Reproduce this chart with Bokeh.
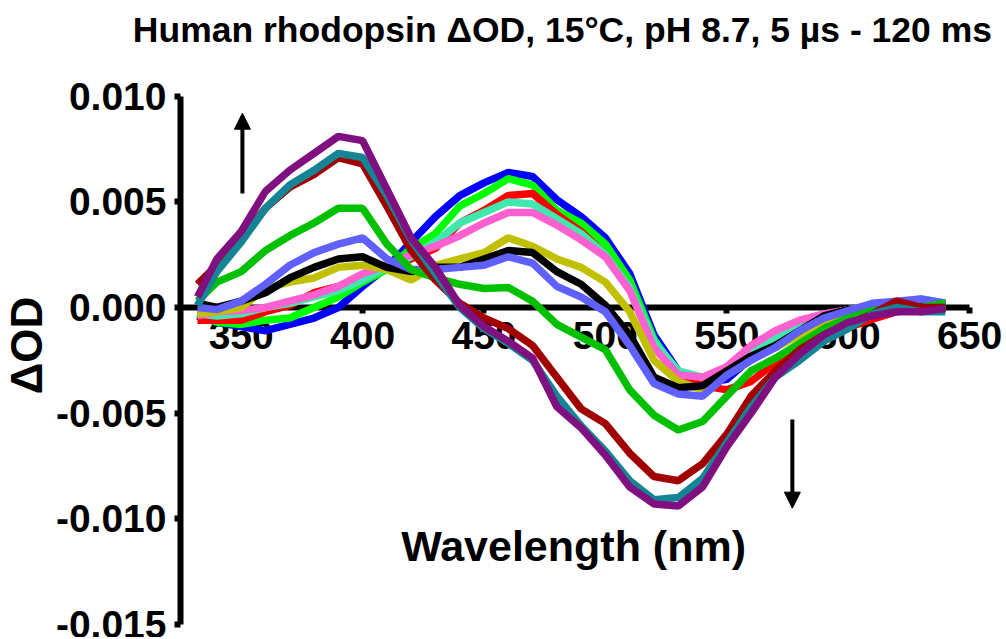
from bokeh.plotting import figure
from bokeh.models import Range1d, FixedTicker, PrintfTickFormatter, Label, Arrow, NormalHead
from bokeh.embed import file_html
from bokeh.resources import INLINE

title_text = "Human rhodopsin \u0394OD, 15\u00b0C, pH 8.7, 5 \u00b5s - 120 ms"
x_label = "Wavelength (nm)"
y_label = "\u0394OD"

x_ticks = [350, 400, 450, 500, 550, 600, 650]
y_ticks = [-0.015, -0.010, -0.005, 0.000, 0.005, 0.010]

wavelength = [332, 340, 350, 360, 370, 380, 390, 400, 410, 420, 430, 440, 450, 460, 470, 480,
              490, 500, 510, 520, 530, 540, 550, 560, 570, 580, 590, 600, 610, 620, 630, 640]

blue = [-0.0004, -0.0007, -0.0009, -0.0011, -0.0008, -0.0005, 0.0000, 0.0010, 0.0019, 0.0031, 0.0043,
        0.0053, 0.0059, 0.0064, 0.0062, 0.0051, 0.0043, 0.0033, 0.0016, -0.0013, -0.0030, -0.0036,
        -0.0034, -0.0024, -0.0016, -0.0009, -0.0005, -0.0002, 0.0000, 0.0002, 0.0002, 0.0001]
bright_green = [-0.0003, -0.0007, -0.0008, -0.0006, -0.0005, 0.0000, 0.0005, 0.0012, 0.0018, 0.0028,
                0.0035, 0.0048, 0.0054, 0.0061, 0.0058, 0.0046, 0.0040, 0.0030, 0.0013, -0.0015,
                -0.0032, -0.0036, -0.0032, -0.0025, -0.0018, -0.0011, -0.0006, -0.0002, 0.0000,
                0.0001, 0.0001, 0.0001]
red = [-0.0006, -0.0006, -0.0006, -0.0002, 0.0001, 0.0007, 0.0010, 0.0014, 0.0019, 0.0023, 0.0028,
       0.0040, 0.0046, 0.0053, 0.0054, 0.0044, 0.0036, 0.0025, 0.00095, -0.0018, -0.0033, -0.0037,
       -0.0039, -0.0035, -0.0026, -0.0019, -0.0013, -0.00095, -0.00055, -0.0002, 0.0000, 0.0000]
aquamarine = [-0.0003, -0.0004, -0.0003, 0.0000, 0.0002, 0.0005, 0.0008, 0.0013, 0.0019, 0.0024,
              0.0031, 0.0040, 0.0045, 0.0050, 0.0049, 0.0042, 0.0035, 0.0025, 0.00095, -0.0016,
              -0.0030, -0.0033, -0.0029, -0.0021, -0.0014, -0.0008, -0.0004, -0.0001, 0.0001,
              0.0002, 0.0004, 0.0002]
pink = [-0.0004, -0.0002, -0.00014, 0.0000, 0.0003, 0.0006, 0.0010, 0.0016, 0.0020, 0.0025, 0.0029,
        0.0034, 0.0040, 0.0045, 0.0045, 0.0039, 0.0032, 0.0024, 0.0008, -0.0019, -0.0032, -0.0033,
        -0.0028, -0.0018, -0.0011, -0.0006, -0.0003, -0.0001, 0.0001, 0.0002, 0.0002, 0.0001]
olive = [-0.0003, -0.0002, 0.0000, 0.0009, 0.0012, 0.0014, 0.0019, 0.0020, 0.0018, 0.0013, 0.0020,
         0.0023, 0.0026, 0.0033, 0.0029, 0.0023, 0.0019, 0.0012, -0.0002, -0.0025, -0.0035, -0.0039,
         -0.0030, -0.0024, -0.0019, -0.0013, -0.0006, -0.0003, -0.00015, 0.0000, 0.0000, 0.0000]
black = [0.0002, 0.0000, 0.0003, 0.0007, 0.0014, 0.0019, 0.0023, 0.0024, 0.0019, 0.0017, 0.0019,
         0.0019, 0.0023, 0.0027, 0.0026, 0.0017, 0.0011, 0.0001, -0.0013, -0.0033, -0.0038, -0.0037,
         -0.0030, -0.0023, -0.0018, -0.0011, -0.0004, -0.0001, 0.0000, 0.0001, 0.0001, 0.0001]
slate_blue = [0.0000, -0.0001, 0.0003, 0.0011, 0.0020, 0.0026, 0.0030, 0.0033, 0.0023, 0.0018,
              0.0018, 0.0019, 0.0020, 0.0024, 0.0021, 0.0010, 0.0005, -0.0002, -0.0018, -0.0036,
              -0.0041, -0.0042, -0.0032, -0.0025, -0.0019, -0.0011, -0.0005, -0.00015, 0.0002,
              0.0003, 0.0004, 0.0002]
mid_green = [0.0003, 0.0012, 0.0017, 0.0027, 0.0034, 0.0040, 0.0047, 0.0047, 0.0030, 0.0018, 0.0014,
             0.0011, 0.0009, 0.00095, 0.0003, -0.0008, -0.0014, -0.0020, -0.0039, -0.0051, -0.0058,
             -0.0054, -0.0042, -0.0030, -0.0024, -0.0017, -0.0010, -0.0005, -0.00015, 0.0000,
             0.0000, 0.0002]
dark_red = [0.0011, 0.0020, 0.0033, 0.0047, 0.0057, 0.0063, 0.0071, 0.0068, 0.0048, 0.0027, 0.0013,
            0.0002, -0.0005, -0.0010, -0.0018, -0.0033, -0.0048, -0.0055, -0.0069, -0.0080, -0.0082,
            -0.0074, -0.0060, -0.0042, -0.0030, -0.0020, -0.0013, -0.0008, -0.0003, 0.0003,
            0.0000, 0.0000]
teal = [0.0001, 0.0017, 0.0031, 0.0047, 0.0058, 0.0065, 0.0073, 0.0071, 0.0053, 0.0032, 0.0016,
        0.0000, -0.0010, -0.0017, -0.0025, -0.0042, -0.0056, -0.0068, -0.0082, -0.0091, -0.0090,
        -0.0081, -0.0064, -0.0047, -0.0033, -0.0025, -0.0016, -0.0010, -0.0003, 0.0000, -0.0002,
        -0.0002]
purple = [0.0005, 0.0023, 0.0036, 0.0055, 0.0065, 0.0073, 0.0081, 0.0079, 0.0056, 0.0033, 0.0019,
          0.0001, -0.0009, -0.0016, -0.0024, -0.0047, -0.0057, -0.0070, -0.0085, -0.0093, -0.0094,
          -0.0085, -0.0066, -0.0050, -0.0033, -0.0022, -0.0013, -0.0007, -0.0004, -0.0002, -0.0002,
          -0.00005]

series = [
    (blue, "#0000ff"),
    (bright_green, "#00ff00"),
    (red, "#ff0000"),
    (aquamarine, "#40e8b0"),
    (pink, "#ff60d0"),
    (olive, "#c0c000"),
    (black, "#000000"),
    (slate_blue, "#6060ff"),
    (mid_green, "#00c000"),
    (dark_red, "#a00000"),
    (teal, "#158595"),
    (purple, "#80107f"),
]

FONT = "Liberation Sans"

# The frame fills the whole canvas; both axes are pinned inside it.
p = figure(width=1004, height=637, x_range=Range1d(250.87, 664.37), y_range=Range1d(-0.015625, 0.014536),
           output_backend="svg", toolbar_location=None,
           min_border_left=0, min_border_right=0, min_border_top=0, min_border_bottom=0)
p.outline_line_color = None
p.xgrid.grid_line_color = None
p.ygrid.grid_line_color = None
p.background_fill_color = "white"

for vals, col in series:
    p.line(wavelength, vals, line_color=col, line_width=7.5)

for ax in (p.xaxis, p.yaxis):
    ax.level = "underlay"
    ax.axis_line_width = 6
    ax.axis_line_color = "black"
    ax.major_tick_line_width = 6
    ax.major_tick_out = 6
    ax.major_tick_in = 0
    ax.minor_tick_line_color = None
    ax.major_label_text_font = FONT
    ax.major_label_text_font_style = "bold"
    ax.major_label_text_font_size = "39px"
    ax.major_label_text_color = "black"

p.xaxis.fixed_location = 0
p.xaxis.bounds = (325, 650)
p.xaxis.ticker = FixedTicker(ticks=x_ticks)
p.xaxis.major_label_standoff = 8
p.yaxis.fixed_location = 325
p.yaxis.bounds = (-0.015, 0.010)
p.yaxis.ticker = FixedTicker(ticks=y_ticks)
p.yaxis.formatter = PrintfTickFormatter(format="%.3f")
p.yaxis.major_label_standoff = 8

p.add_layout(Label(x=482.3, y=0.01312, text=title_text, text_align="center", text_baseline="middle",
                   text_font=FONT, text_font_style="bold", text_font_size="35.5px", text_color="black"))
p.add_layout(Label(x=486.9, y=-0.01127, text=x_label, text_align="center", text_baseline="middle",
                   text_font=FONT, text_font_style="bold", text_font_size="43px", text_color="black"))
p.add_layout(Label(x=261.5, y=-0.0018, text=y_label, text_align="center", text_baseline="middle",
                   angle=1.5708, text_font=FONT, text_font_style="bold", text_font_size="44px",
                   text_color="black"))

p.add_layout(Arrow(end=NormalHead(size=16, fill_color="black", line_color="black"),
                   x_start=350.5, y_start=0.0054, x_end=350.5, y_end=0.0092,
                   line_width=4, line_color="black"))
p.add_layout(Arrow(end=NormalHead(size=16, fill_color="black", line_color="black"),
                   x_start=577, y_start=-0.0053, x_end=577, y_end=-0.0095,
                   line_width=4, line_color="black"))

open("out.html", "w").write(file_html(p, INLINE))
